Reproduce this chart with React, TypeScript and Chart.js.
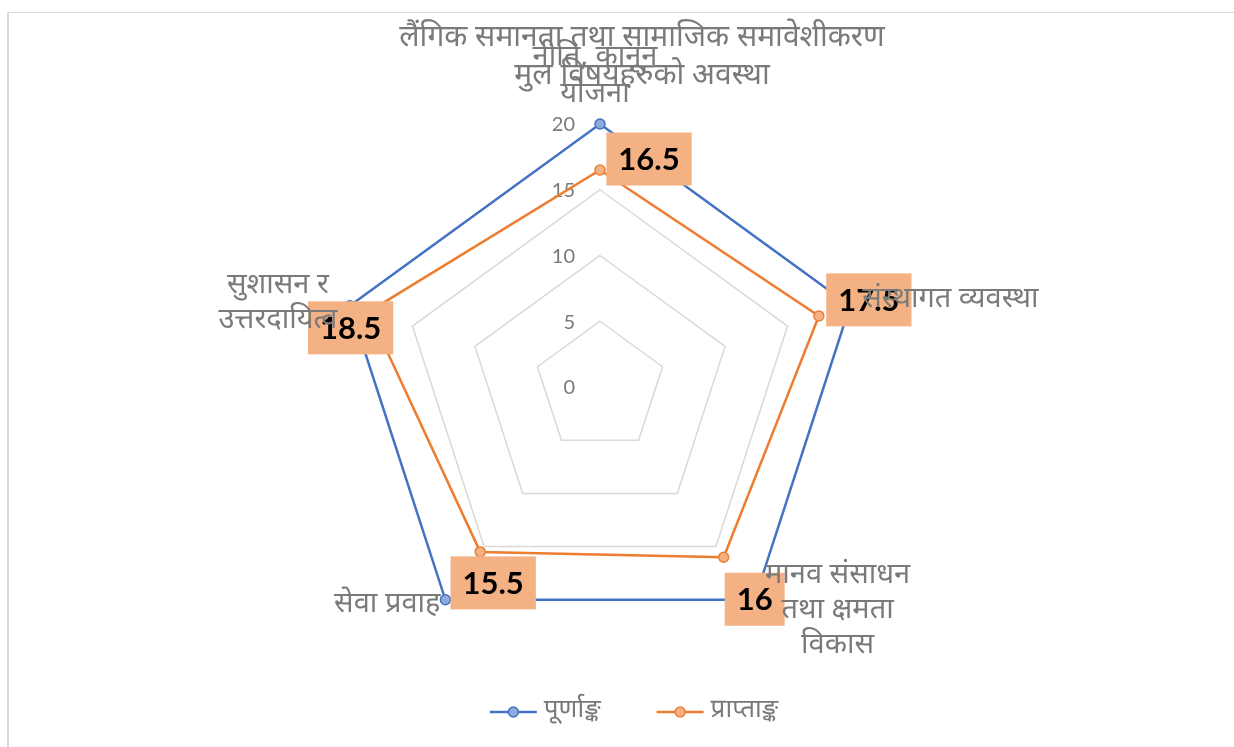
import React, { useEffect, useRef } from "react";
import { Chart, registerables } from "chart.js";
Chart.register(...registerables);

// ---------- data ----------
const categories: string[][] = [
  ["नीति, कानून", "योजना"],
  ["संस्थागत व्यवस्था"],
  ["मानव संसाधन", "तथा क्षमता", "विकास"],
  ["सेवा प्रवाह"],
  ["सुशासन र", "उत्तरदायित्व"],
];
const fullMarks = [20, 20, 20, 20, 20];
const obtainedMarks = [16.5, 17.5, 16, 15.5, 18.5];
const seriesNames = ["पूर्णाङ्क", "प्राप्ताङ्क"];
const titleLines = ["लैंगिक समानता तथा सामाजिक समावेशीकरण", "मुल विषयहरुको अवस्था"];
const tickValues = [0, 5, 10, 15, 20];

// ---------- styles / layout ----------
const BLUE = "#4472C4";
const BLUE_FILL = "#8FAADC";
const ORANGE = "#ED7D31";
const ORANGE_FILL = "#F4B183";
const GRAY_TEXT = "#7a7a7a";
const DEVA = '"Noto Sans Devanagari", "Lohit Devanagari", "Mukta", "Noto Sans", sans-serif';
const NUM = 'Lato, "Open Sans", "Liberation Sans", sans-serif';

// offsets of axis labels from the outer (max) vertex of each axis
const axisLabelLayout = [
  { dx: -5, dy: -64, align: "center", lh: 37 },
  { dx: 12, dy: -4, align: "left", lh: 35 },
  { dx: 83, dy: -22, align: "center", lh: 35 },
  { dx: -5, dy: 7, align: "right", lh: 35 },
  { dx: -72, dy: -18, align: "center", lh: 35 },
];
// offsets of value boxes from their point
const valueLabelOffsets = [
  [49, -11],
  [50, -16],
  [31, 42],
  [13, 31],
  [-18, 16],
];

const overlayPlugin = {
  id: "overlay",
  beforeDatasetsDraw(chart: any) {
    const ctx = chart.ctx;
    const r = chart.scales.r;
    ctx.save();
    ctx.font = `20px ${NUM}`;
    ctx.fillStyle = GRAY_TEXT;
    ctx.textAlign = "right";
    ctx.textBaseline = "middle";
    tickValues.forEach((v) => {
      const p = r.getPointPositionForValue(0, v);
      ctx.fillText(String(v), r.xCenter - 25, p.y + 1);
    });
    ctx.restore();
  },
  afterDatasetsDraw(chart: any) {
    const ctx = chart.ctx;
    const r = chart.scales.r;
    const meta = chart.getDatasetMeta(1);
    ctx.save();
    // value boxes
    ctx.font = `bold 31px ${NUM}`;
    ctx.textAlign = "center";
    ctx.textBaseline = "middle";
    meta.data.forEach((pt: any, i: number) => {
      const txt = String(obtainedMarks[i]);
      const w = ctx.measureText(txt).width + 24;
      const h = 53;
      const cx = pt.x + valueLabelOffsets[i][0];
      const cy = pt.y + valueLabelOffsets[i][1];
      ctx.fillStyle = ORANGE_FILL;
      ctx.fillRect(cx - w / 2, cy - h / 2, w, h);
      ctx.fillStyle = "#000";
      ctx.fillText(txt, cx, cy + 1);
    });
    // axis labels
    ctx.font = `29px ${DEVA}`;
    ctx.fillStyle = GRAY_TEXT;
    categories.forEach((lines, i) => {
      const v = r.getPointPositionForValue(i, r.max);
      const L = axisLabelLayout[i];
      ctx.textAlign = L.align;
      lines.forEach((line, j) => {
        ctx.fillText(line, v.x + L.dx, v.y + L.dy + j * L.lh);
      });
    });
    // title
    ctx.font = `30px ${DEVA}`;
    ctx.textAlign = "center";
    titleLines.forEach((line, j) => {
      ctx.fillText(line, r.xCenter + 42, 40 + j * 38);
    });
    // legend
    ctx.font = `26px ${DEVA}`;
    ctx.textAlign = "left";
    const colors = [
      [BLUE, BLUE_FILL],
      [ORANGE, ORANGE_FILL],
    ];
    const lineLen = 47;
    const gapText = 7;
    const gapItem = 56;
    const widths = seriesNames.map((n) => lineLen + gapText + ctx.measureText(n).width);
    const total = widths.reduce((a, b) => a + b, 0) + gapItem * (seriesNames.length - 1);
    let x = r.xCenter + 34 - total / 2;
    const y = 712;
    seriesNames.forEach((n, k) => {
      ctx.strokeStyle = colors[k][0];
      ctx.lineWidth = 2.5;
      ctx.beginPath();
      ctx.moveTo(x, y);
      ctx.lineTo(x + lineLen, y);
      ctx.stroke();
      ctx.beginPath();
      ctx.arc(x + lineLen / 2, y, 5, 0, Math.PI * 2);
      ctx.fillStyle = colors[k][1];
      ctx.fill();
      ctx.lineWidth = 1.5;
      ctx.stroke();
      ctx.fillStyle = GRAY_TEXT;
      ctx.fillText(n, x + lineLen + gapText, y);
      x += widths[k] + gapItem;
    });
    ctx.restore();
  },
};

export default function App() {
  const ref = useRef<HTMLCanvasElement | null>(null);
  useEffect(() => {
    if (!ref.current) return;
    const chart = new Chart(ref.current, {
      type: "radar",
      data: {
        labels: categories,
        datasets: [
          {
            label: seriesNames[0],
            data: fullMarks,
            borderColor: BLUE,
            backgroundColor: BLUE_FILL,
            pointBackgroundColor: BLUE_FILL,
            pointBorderColor: BLUE,
            borderWidth: 2.5,
            pointRadius: 5,
            pointBorderWidth: 1.5,
            fill: false,
          },
          {
            label: seriesNames[1],
            data: obtainedMarks,
            borderColor: ORANGE,
            backgroundColor: ORANGE_FILL,
            pointBackgroundColor: ORANGE_FILL,
            pointBorderColor: ORANGE,
            borderWidth: 2.5,
            pointRadius: 5,
            pointBorderWidth: 1.5,
            fill: false,
          },
        ],
      },
      options: {
        animation: false,
        responsive: false,
        maintainAspectRatio: false,
        layout: { padding: { top: 124, bottom: 97, left: 200, right: 234 } },
        plugins: {
          legend: { display: false },
          title: { display: false },
          tooltip: { enabled: false },
        },
        scales: {
          r: {
            min: 0,
            max: 20,
            ticks: { display: false, stepSize: 5 },
            grid: { color: "#d9d9d9", lineWidth: 1.5 },
            angleLines: { display: false },
            pointLabels: { display: false },
          },
        },
      },
      plugins: [overlayPlugin],
    } as any);
    return () => chart.destroy();
  }, []);
  return (
    <div style={{ position: "fixed", left: 0, top: 0, width: 1234, height: 747, overflow: "hidden", background: "#fff" }}>
      <div
        style={{
          position: "absolute",
          left: 7,
          top: 12,
          width: 1300,
          height: 800,
          borderTop: "1px solid #d9d9d9",
          borderLeft: "2px solid #d9d9d9",
        }}
      />
      <canvas ref={ref} width={1234} height={747} style={{ position: "absolute", left: 0, top: 0, display: "block" }} />
    </div>
  );
}
